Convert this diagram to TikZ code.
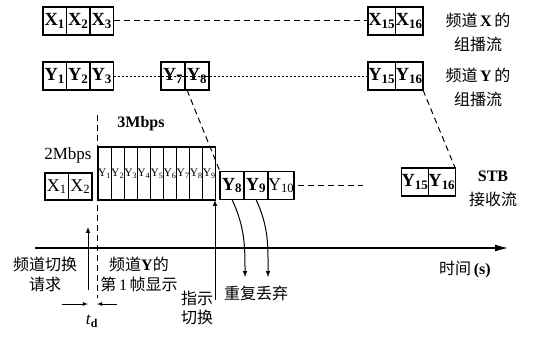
\documentclass[tikz,border=0pt]{standalone}
\usepackage{fontspec}
\setmainfont{Liberation Serif}
\newfontfamily\cjk{Noto Sans CJK SC}
\usetikzlibrary{positioning,arrows.meta}
\newcommand{\zh}[1]{{\cjk #1}}

\begin{document}
\begin{tikzpicture}[x=1pt,y=-1pt,
    cell/.style={draw, line width=1.3pt, inner sep=0pt, outer sep=0pt, minimum height=28pt, font=\bfseries\fontsize{18.5}{18.5}\selectfont},
    xcell/.style={cell, minimum width=23.5pt},
    ycell/.style={cell, minimum width=24pt},
    wcell/.style={cell, minimum width=27.5pt},
    ucell/.style={cell, minimum width=26pt},
    scell/.style={cell, minimum width=23.5pt, minimum height=27pt, font=\fontsize{18}{18}\selectfont},
    tcell/.style={cell, line width=1.1pt, minimum width=13.1pt, minimum height=53pt, font=\fontsize{11.5}{11.5}\selectfont},
    lab/.style={font=\fontsize{16}{20}\selectfont, align=center, inner sep=0pt},
    wlab/.style={lab, font=\fontsize{16}{24}\selectfont},
    dash line/.style={line width=1pt, dash pattern=on 6pt off 4pt},
    dot line/.style={line width=1pt, dash pattern=on 2pt off 2pt}]
        \useasboundingbox (0,0) rectangle (534,337);
        % Draw the multicast of channel X
        \node[xcell] (x1) at (54.75,21) {X\textsubscript{1}};
        \node[xcell, right=0pt of x1] (x2) {X\textsubscript{2}};
        \node[xcell, right=0pt of x2] (x3) {X\textsubscript{3}};
        \node[wcell] (x15) at (381.75,21) {X\textsubscript{15}};
        \node[wcell, right=0pt of x15] (x16) {X\textsubscript{16}};
        \draw[dash line] (x3.east) -- (x15.west);
        \node[wlab] (chx) at (478,32) {\zh{频道}\,\textbf{X}\,\zh{的}\\\zh{组播流}};
        % Draw the multicast of channel Y
        \node[xcell] (y1) at (54.75,76) {Y\textsubscript{1}};
        \node[xcell, right=0pt of y1] (y2) {Y\textsubscript{2}};
        \node[xcell, right=0pt of y2] (y3) {Y\textsubscript{3}};
        \node[ycell] (y7) at (173,76) {Y\textsubscript{7}};
        \node[ycell, right=0pt of y7] (y8) {Y\textsubscript{8}};
        \node[wcell] (y15) at (381.75,76) {Y\textsubscript{15}};
        \node[wcell, right=0pt of y15] (y16) {Y\textsubscript{16}};
        \draw[dot line] (y3.east) -- (y15.west);
        \node[wlab] (chy) at (478,87) {\zh{频道}\,\textbf{Y}\,\zh{的}\\\zh{组播流}};
        % Draw the STB stream
        \node[scell] (sx1) at (56.75,186.5) {X\textsubscript{1}};
        \node[scell, right=0pt of sx1] (sx2) {X\textsubscript{2}};
        \node[tcell] (t1) at (104.55,173.5) {Y\textsubscript{1}};
        \node[tcell, right=0pt of t1] (t2) {Y\textsubscript{2}};
        \node[tcell, right=0pt of t2] (t3) {Y\textsubscript{3}};
        \node[tcell, right=0pt of t3] (t4) {Y\textsubscript{4}};
        \node[tcell, right=0pt of t4] (t5) {Y\textsubscript{5}};
        \node[tcell, right=0pt of t5] (t6) {Y\textsubscript{6}};
        \node[tcell, right=0pt of t6] (t7) {Y\textsubscript{7}};
        \node[tcell, right=0pt of t7] (t8) {Y\textsubscript{8}};
        \node[tcell, right=0pt of t8] (t9) {Y\textsubscript{9}};
        \node[ycell] (sy8) at (232,185.5) {Y\textsubscript{8}};
        \node[ycell, right=0pt of sy8] (sy9) {Y\textsubscript{9}};
        \node[ycell, right=0pt of sy9, font=\fontsize{18}{18}\selectfont] (sy10) {Y\textsubscript{10}};
        \node[ucell] (sy15) at (415,182) {Y\textsubscript{15}};
        \node[ucell, right=0pt of sy15] (sy16) {Y\textsubscript{16}};
        \coordinate (gap0) at (298,185.5);
        \coordinate (gap1) at (363,185.5);
        \draw[dash line] (gap0) -- (gap1);
        \node[wlab] (stb) at (493,188.5) {\textbf{STB}\\\zh{接收流}};
        % Rates
        \node[lab, font=\fontsize{17}{17}\selectfont] (r2) at (68,155) {2Mbps};
        \node[lab, font=\bfseries\fontsize{16}{16}\selectfont] (r3) at (141,124) {3Mbps};
        % Frames that reach the STB
        \draw[dash line] ([xshift=2pt]y8.south west) -- (sy8.north west);
        \draw[dash line] (y16.south east) -- (sy16.north east);
        % Draw the time axis
        \coordinate (ax0) at (35,248);
        \coordinate (ax1) at (508,248);
        \draw[-{Latex[length=13pt,width=7pt]}, line width=1.1pt] (ax0) -- (ax1);
        \node[lab] (time) at (465,270) {\zh{时间}\,\textbf{(s)}};
        % First frame of channel Y
        \coordinate (vtop) at (97,115);
        \coordinate (vbot) at (97,298);
        \draw[dash line] (vtop) -- (vbot);
        % Request, t_d and switch
        \coordinate (req) at (88,290);
        \coordinate (reqtip) at (88,227);
        \draw[-latex, line width=1pt] (req) -- (reqtip);
        \coordinate (tdl) at (62,304);
        \coordinate (tdr) at (117,304);
        \draw[-latex, line width=0.8pt] (tdl) -- (tdl -| req);
        \draw[-latex, line width=0.8pt] (tdr) -- (tdr -| vtop);
        \node[lab, font=\fontsize{17}{17}\selectfont] (td) at (92,321) {\textit{t}\textsubscript{\textbf{d}}};
        \node[lab] (reqlab) at (45,274) {\zh{频道切换}\\\zh{请求}};
        \node[lab] (first) at (139,274) {\zh{频道}\textbf{Y}\zh{的}\\\zh{第}\,1\,\zh{帧显示}};
        \coordinate (sw) at (215,300);
        \draw[-latex, line width=1pt] (sw) -- (sw |- t9.south);
        \node[lab, font=\fontsize{16}{19}\selectfont] (ind) at (197,307.5) {\zh{指示}\\\zh{切换}};
        % Duplicate frames dropped
        \coordinate (d1) at (245,277);
        \coordinate (d2) at (268,277);
        \draw[-latex, line width=1pt] (sy8.south) to[out=-65, in=90] (d1);
        \draw[-latex, line width=1pt] (sy9.south) to[out=-65, in=90] (d2);
        \node[lab] (drop) at (256,293) {\zh{重复丢弃}};
    \end{tikzpicture}
\end{document}
